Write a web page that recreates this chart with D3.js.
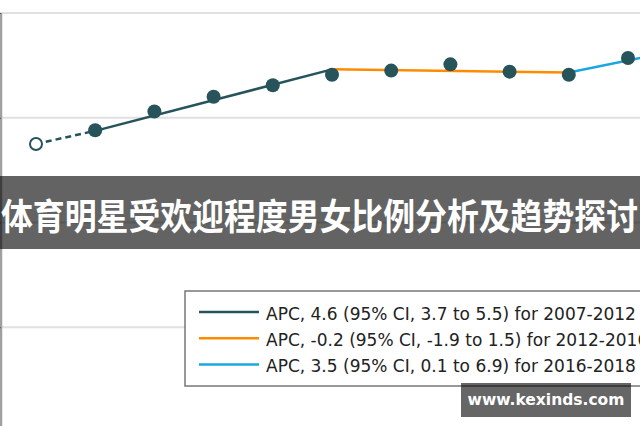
<!DOCTYPE html>
<html lang="zh">
<head>
    <meta charset="UTF-8">
    <title>体育明星受欢迎程度男女比例分析及趋势探讨</title>
    <script src="https://cdnjs.cloudflare.com/ajax/libs/d3/7.8.5/d3.min.js"></script>
    <style>
        body {
            margin: 0;
            background-color: #fff;
            overflow: hidden;
        }
        svg {
            display: block;
        }
    </style>
</head>
<body>
    <div id="chart"></div>

    <script>
        // Observed values (year by year)
        const years = [2007, 2008, 2009, 2010, 2011, 2012, 2013, 2014, 2015, 2016, 2017, 2018];
        const rates = [27.5, 28.8, 30.6, 32.0, 33.1, 34.1, 34.5, 35.1, 34.4, 34.1, 35.7, 37.2];

        // Fitted joinpoint segments
        const segDarkYears = [2008, 2012];
        const segDarkFit = [28.75, 34.62];
        const segOrangeYears = [2012, 2016];
        const segOrangeFit = [34.62, 34.32];
        const segBlueYears = [2016, 2018];
        const segBlueFit = [34.32, 36.62];

        // Grid tick values (labels fall outside the crop)
        const yTicks = [10, 20, 30, 40];

        const legendLabels = [
            "APC, 4.6 (95% CI, 3.7 to 5.5) for 2007-2012",
            "APC, -0.2 (95% CI, -1.9 to 1.5) for 2012-2016",
            "APC, 3.5 (95% CI, 0.1 to 6.9) for 2016-2018"
        ];
        const legendColors = ["#27535a", "#ff8c00", "#1aa6e0"];

        const title = "体育明星受欢迎程度男女比例分析及趋势探讨";
        const watermark = "www.kexinds.com";

        const width = 640;
        const height = 426;

        const svg = d3.select("#chart")
            .append("svg")
                .attr("width", width)
                .attr("height", height);

        // Scales
        const x = d3.scaleLinear()
            .domain([2007, 2018])
            .range([36, 36 + 59.2 * 11]);

        const y = d3.scaleLinear()
            .domain([0, 40])
            .range([432, 13]);

        // Horizontal gridlines
        svg.append("g")
            .selectAll("line")
            .data(yTicks)
            .join("line")
                .attr("x1", 0)
                .attr("x2", width)
                .attr("y1", d => y(d))
                .attr("y2", d => y(d))
                .attr("stroke", "#e0e0e0")
                .attr("stroke-width", 2);

        // Left axis
        const axis = svg.append("g")
            .attr("transform", "translate(1,0)")
            .call(d3.axisLeft(y)
                .tickValues(yTicks)
                .tickFormat("")
                .tickSize(2)
                .tickSizeOuter(0));
        axis.select(".domain")
            .attr("stroke", "#a0a0a0")
            .attr("stroke-width", 2.5)
            .attr("d", `M0,${y(40)}V${height + 10}`);
        axis.selectAll(".tick line").attr("stroke", "#555");

        const line = d3.line()
            .x(d => x(d[0]))
            .y(d => y(d[1]));

        // Dashed link from the first observed year to the fitted line
        svg.append("path")
            .datum([[years[0], rates[0]], [segDarkYears[0], segDarkFit[0]]])
            .attr("fill", "none")
            .attr("stroke", legendColors[0])
            .attr("stroke-width", 2.5)
            .attr("stroke-dasharray", "6,4")
            .attr("d", line);

        // Fitted segments
        const segments = [
            [segDarkYears, segDarkFit],
            [segOrangeYears, segOrangeFit],
            [segBlueYears, segBlueFit]
        ];
        segments.forEach((s, i) => {
            svg.append("path")
                .datum(s[0].map((yr, j) => [yr, s[1][j]]))
                .attr("fill", "none")
                .attr("stroke", legendColors[i])
                .attr("stroke-width", 2.5)
                .attr("d", line);
        });

        // Observed points
        svg.append("g")
            .selectAll("circle")
            .data(years.map((yr, i) => ({yr, v: rates[i], i})))
            .join("circle")
                .attr("cx", d => x(d.yr))
                .attr("cy", d => y(d.v))
                .attr("r", d => d.i === 0 ? 6 : 7)
                .attr("fill", d => d.i === 0 ? "#fff" : "#27535a")
                .attr("stroke", "#27535a")
                .attr("stroke-width", d => d.i === 0 ? 2 : 0);

        // Legend
        const legend = svg.append("g");
        legend.append("rect")
            .attr("x", 185)
            .attr("y", 291)
            .attr("width", 480)
            .attr("height", 95)
            .attr("fill", "#fff")
            .attr("stroke", "#777")
            .attr("stroke-width", 1.5);

        const rows = legend.selectAll("g.row")
            .data(legendLabels)
            .join("g")
                .attr("class", "row")
                .attr("transform", (d, i) => `translate(0,${312 + i * 26.2})`);

        rows.append("line")
            .attr("x1", 199)
            .attr("x2", 259)
            .attr("stroke", (d, i) => legendColors[i])
            .attr("stroke-width", 2.5);

        rows.append("text")
            .attr("x", 266)
            .attr("y", 7.5)
            .attr("fill", "#222")
            .style("font-family", "'DejaVu Sans', sans-serif")
            .style("font-size", "17px")
            .text(d => d);

        // Title banner
        svg.append("rect")
            .attr("x", 0)
            .attr("y", 176)
            .attr("width", width)
            .attr("height", 73)
            .attr("fill", "rgba(0,0,0,0.61)");

        svg.append("text")
            .attr("x", 1)
            .attr("y", 230)
            .attr("textLength", 637)
            .attr("lengthAdjust", "spacingAndGlyphs")
            .attr("fill", "#fff")
            .style("font-family", "'Noto Sans CJK SC', sans-serif")
            .style("font-weight", "bold")
            .style("font-size", "36px")
            .text(title);

        // Watermark
        svg.append("rect")
            .attr("x", 461)
            .attr("y", 383)
            .attr("width", 170)
            .attr("height", 34)
            .attr("fill", "rgba(0,0,0,0.6)");

        svg.append("text")
            .attr("x", 546)
            .attr("y", 405)
            .attr("text-anchor", "middle")
            .attr("fill", "#fff")
            .style("font-family", "'DejaVu Sans', sans-serif")
            .style("font-weight", "bold")
            .style("font-size", "15.5px")
            .text(watermark);
    </script>
</body>
</html>
